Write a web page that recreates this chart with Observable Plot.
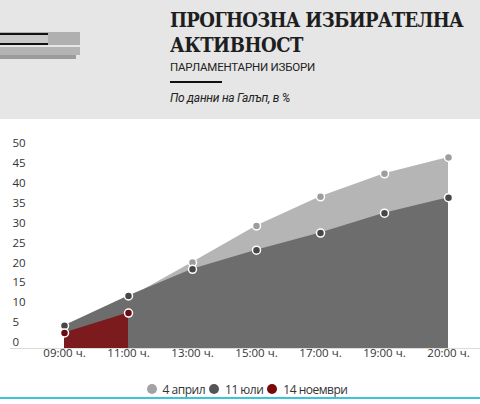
<!DOCTYPE html>
<html>
<head>
<meta charset="utf-8">
<script src="https://cdn.jsdelivr.net/npm/d3@7"></script>
<script src="https://cdn.jsdelivr.net/npm/@observablehq/plot@0.6"></script>
<style>
  html, body { margin: 0; padding: 0; background: #fff; }
  body { width: 480px; height: 404px; position: relative; overflow: hidden; font-family: "Open Sans", Roboto, sans-serif; }
  #header { position: absolute; left: 0; top: 0; width: 480px; height: 119px; background: #e6e6e6; }
  .logo { position: absolute; }
  .hl { position: absolute; left: 170px; white-space: nowrap; margin: 0; }
  .tl { font-family: "DejaVu Serif Condensed", "DejaVu Serif", serif; font-stretch: condensed; font-weight: bold; font-size: 20px; line-height: 25px; color: #1e1e1e; }
  #t1 { top: 8px; }
  #t2 { top: 33px; }
  #subtitle { top: 61px; font-family: Roboto, sans-serif; font-size: 11.5px; line-height: 12px; color: #222; }
  #rule { position: absolute; left: 170px; top: 81px; width: 52px; height: 2px; background: #111; }
  #source { top: 92px; font-family: Roboto, sans-serif; font-size: 12px; line-height: 12px; font-style: italic; color: #222; }
  #chart { position: absolute; left: 0; top: 119px; }
  #legend { position: absolute; left: 0; top: 382px; width: 480px; height: 14px; padding-left: 14px; box-sizing: border-box; display: flex; justify-content: center; align-items: center; font-size: 12px; letter-spacing: -0.5px; color: #333; }
  .item { display: inline-flex; align-items: center; margin: 0 2px; }
  .sw { width: 10px; height: 10px; border-radius: 50%; margin-right: 6px; }
  #cyan { position: absolute; left: 0; top: 397px; width: 480px; height: 1.5px; background: #3cc4dc; }
</style>
</head>
<body>
<div id="header">
  <div class="logo" style="left:0;top:32px;width:80px;height:13px;background:#b0b0b0"></div>
  <div class="logo" style="left:0;top:35px;width:48px;height:8px;background:#c9c9c9"></div>
  <div class="logo" style="left:0;top:33px;width:48px;height:2px;background:#111"></div>
  <div class="logo" style="left:0;top:43px;width:48px;height:2px;background:#111"></div>
  <div class="logo" style="left:0;top:47px;width:80px;height:8px;background:#b4b4b4"></div>
  <div class="logo" style="left:0;top:55px;width:76px;height:4px;background:#9c9c9c"></div>
  <div id="t1" class="hl tl">ПРОГНОЗНА ИЗБИРАТЕЛНА</div>
  <div id="t2" class="hl tl">АКТИВНОСТ</div>
  <div id="subtitle" class="hl">ПАРЛАМЕНТАРНИ ИЗБОРИ</div>
  <div id="rule"></div>
  <div id="source" class="hl">По данни на Галъп, в %</div>
</div>
<div id="chart"></div>
<div id="legend"></div>
<div id="cyan"></div>
<script>
const times = ["09:00 ч.", "11:00 ч.", "13:00 ч.", "15:00 ч.", "17:00 ч.", "19:00 ч.", "20:00 ч."];
const april = [4.8, 12.6, 21.6, 30.8, 38.1, 43.9, 48.0];
const july = [5.7, 13.2, 19.9, 24.7, 29.0, 34.0, 37.9];
const november = [3.9, 8.9];
const yTicks = [0, 5, 10, 15, 20, 25, 30, 35, 40, 45, 50];
const seriesNames = ["4 април", "11 юли", "14 ноември"];

const areaColors = ["#b5b5b5", "#6d6d6d", "#7b1b1d"];
const dotColors = ["#9d9d9d", "#474747", "#6c0a12"];
const legendColors = ["#a3a3a3", "#555555", "#7a0a0a"];

// fit header lines to the widths they take in the reference
function fit(id, target) {
  const el = document.getElementById(id);
  const n = el.textContent.length;
  const w = el.getBoundingClientRect().width;
  el.style.letterSpacing = ((target - w) / n) + "px";
}
fit("t1", 293);
fit("t2", 133);
fit("subtitle", 145);
fit("source", 120);

const toRows = (vals) => vals.map((v, i) => ({t: times[i], v}));
const rows = [toRows(april), toRows(july), toRows(november)];

const marks = [
  Plot.ruleY([0], {stroke: "#dcdcdc", strokeWidth: 1})
];
rows.forEach((data, k) => {
  marks.push(Plot.areaY(data, {x: "t", y: "v", fill: areaColors[k]}));
  marks.push(Plot.dot(data, {x: "t", y: "v", r: 4, fill: dotColors[k], stroke: "#fff", strokeWidth: 1.5}));
});
marks.push(Plot.text(yTicks, {y: d => d, text: d => String(d), frameAnchor: "left", textAnchor: "start", dx: 2, dy: -6, fill: "#333", fontSize: 11.5}));
marks.push(Plot.text(times, {x: d => d, text: d => d, frameAnchor: "bottom", dy: 8, fill: "#333", fontSize: 11.5}));

const chart = Plot.plot({
  width: 480,
  height: 250,
  marginTop: 30,
  marginBottom: 21,
  marginLeft: 10,
  marginRight: 0,
  style: {fontFamily: "'Open Sans', sans-serif", background: "transparent", overflow: "visible"},
  x: {type: "point", domain: times, range: [62, 449], padding: 0, axis: null},
  y: {domain: [0, 50], axis: null},
  marks
});
document.getElementById("chart").appendChild(chart);

const legend = document.getElementById("legend");
seriesNames.forEach((name, k) => {
  const item = document.createElement("span");
  item.className = "item";
  const sw = document.createElement("span");
  sw.className = "sw";
  sw.style.background = legendColors[k];
  item.appendChild(sw);
  item.appendChild(document.createTextNode(name));
  legend.appendChild(item);
});
</script>
</body>
</html>
